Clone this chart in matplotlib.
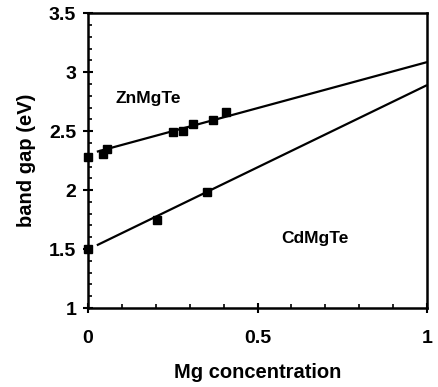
import matplotlib
matplotlib.use("Agg")
import matplotlib.pyplot as plt
import numpy as np
from matplotlib.ticker import MultipleLocator

plt.rcParams['font.family'] = ['Liberation Sans', 'DejaVu Sans']
plt.rcParams['font.weight'] = 'bold'

# ZnMgTe measured points
zn_x = [0.0, 0.045, 0.055, 0.252, 0.279, 0.311, 0.370, 0.406]
zn_y = [2.28, 2.31, 2.35, 2.49, 2.50, 2.56, 2.59, 2.66]
# CdMgTe measured points
cd_x = [0.0, 0.203, 0.350]
cd_y = [1.50, 1.75, 1.98]

# linear fits (intercept, slope) and drawn range
zn_fit = (2.305, 0.780)
cd_fit = (1.496, 1.394)
fit_x = [0.026, 1.0]

fig = plt.figure(figsize=(4.38, 3.87), dpi=100)
ax = fig.add_axes([0.201, 0.204, 0.774, 0.762])

for a, b in (zn_fit, cd_fit):
    xs = np.array(fit_x)
    ax.plot(xs, a + b * xs, color='black', lw=1.6, solid_capstyle='butt')

ax.plot(zn_x, zn_y, 's', color='black', ms=5.5, clip_on=False, zorder=5)
ax.plot(cd_x, cd_y, 's', color='black', ms=5.5, clip_on=False, zorder=5)

ax.text(0.177, 2.78, 'ZnMgTe', fontsize=12.5, fontweight='bold', ha='center', va='center')
ax.text(0.668, 1.59, 'CdMgTe', fontsize=12.5, fontweight='bold', ha='center', va='center')

ax.set_xlim(0, 1)
ax.set_ylim(1, 3.5)
ax.xaxis.set_minor_locator(MultipleLocator(0.1))
ax.yaxis.set_minor_locator(MultipleLocator(0.1))
ax.set_xticks([0, 0.5, 1])
ax.set_xticklabels(['0', '0.5', '1'])
ax.set_yticks([1, 1.5, 2, 2.5, 3, 3.5])
ax.set_yticklabels(['1', '1.5', '2', '2.5', '3', '3.5'])

for s in ax.spines.values():
    s.set_linewidth(1.8)

ax.tick_params(which='major', direction='inout', length=7, width=1.5, labelsize=14)
ax.tick_params(which='minor', direction='in', length=3, width=1.2)
ax.tick_params(axis='x', which='major', pad=12)
ax.tick_params(axis='y', which='major', pad=5)

ax.set_xlabel('Mg concentration', fontsize=14.5, fontweight='bold', labelpad=11.5)
ax.set_ylabel('band gap (eV)', fontsize=14.5, fontweight='bold', labelpad=9)

fig.savefig('out.png', dpi=100)
